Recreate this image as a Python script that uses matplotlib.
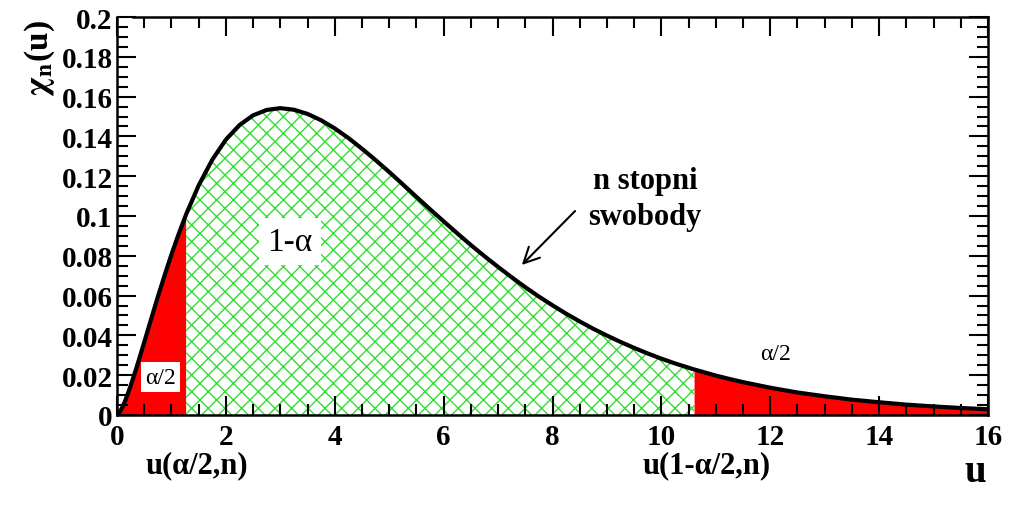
import numpy as np
import matplotlib
matplotlib.use('Agg')
from matplotlib import pyplot as plt
from matplotlib.ticker import MultipleLocator

plt.rcParams['font.family'] = ['Liberation Serif', 'DejaVu Serif']
plt.rcParams['mathtext.fontset'] = 'stix'
plt.rcParams['hatch.linewidth'] = 1.0
plt.rcParams['hatch.color'] = '#33dd33'

# curve (u, chi_n(u))
u = [0, 0.05, 0.1, 0.15, 0.2, 0.25, 0.35, 0.5, 0.625, 0.75, 0.875, 1.0, 1.125, 1.27,
     1.5, 1.75, 2.0, 2.25, 2.5, 2.75, 3.0, 3.25, 3.5, 3.75, 4.0, 4.25, 4.5, 4.75,
     5.0, 5.25, 5.5, 5.75, 6.0, 6.25, 6.5, 6.75, 7.0, 7.25, 7.5, 7.75, 8.0, 8.25,
     8.5, 8.75, 9.0, 9.25, 9.5, 9.75, 10.0, 10.25, 10.6, 11.0, 11.25, 11.5,
     12.0, 12.5, 13.0, 13.5, 14.0, 14.5, 15.0, 15.5, 16.0]
chi = [0, 0.0015, 0.0040, 0.0072, 0.0108, 0.0147, 0.0231, 0.0366, 0.0481, 0.0594,
       0.0703, 0.0807, 0.0904, 0.1009, 0.1154, 0.1283, 0.1384, 0.1457, 0.1506,
       0.1533, 0.1542, 0.1534, 0.1513, 0.1481, 0.1440, 0.1392, 0.1338, 0.1281,
       0.1221, 0.1159, 0.1096, 0.1034, 0.0973, 0.0913, 0.0854, 0.0798, 0.0744,
       0.0692, 0.0642, 0.0595, 0.0551, 0.0509, 0.0470, 0.0433, 0.0399, 0.0367,
       0.0337, 0.0309, 0.0283, 0.0259, 0.0229, 0.0198, 0.0181, 0.0165,
       0.0137, 0.0113, 0.0094, 0.0077, 0.0064, 0.0052, 0.0043, 0.0035, 0.0029]
u_low = 1.27   # u(alpha/2, n)
u_high = 10.6  # u(1-alpha/2, n)

u = np.array(u)
chi = np.array(chi)

fig = plt.figure(figsize=(10.23, 5.06), dpi=100)
ax = fig.add_axes([0.1144, 0.1779, 0.8514, 0.7865])

lo = u <= u_low
mid = (u >= u_low) & (u <= u_high)
hi = u >= u_high
ax.fill_between(u[lo], 0, chi[lo], color='#ff0000', lw=0)
ax.fill_between(u[mid], 0, chi[mid], facecolor='white', edgecolor='#33dd33',
                hatch='xx', lw=0)
ax.fill_between(u[hi], 0, chi[hi], color='#ff0000', lw=0)
ax.plot(u, chi, color='black', lw=3, solid_joinstyle='round')

ax.set_xlim(0, 16)
ax.set_ylim(0, 0.2)
ax.xaxis.set_major_locator(MultipleLocator(2))
ax.xaxis.set_minor_locator(MultipleLocator(0.5))
ax.yaxis.set_major_locator(MultipleLocator(0.02))
ax.yaxis.set_minor_locator(MultipleLocator(0.005))
ax.yaxis.set_major_formatter(plt.FuncFormatter(lambda v, p: '0' if v == 0 else ('%.2f' % v).rstrip('0')))
ax.tick_params(which='both', direction='in', top=True, right=True, width=1.5)
ax.tick_params(which='major', length=14, labelsize=21)
ax.tick_params(which='minor', length=8)
for lab in ax.get_xticklabels() + ax.get_yticklabels():
    lab.set_fontweight('bold')
ax.tick_params(axis='x', pad=6)
ax.tick_params(axis='y', pad=3)
for s in ax.spines.values():
    s.set_linewidth(1.8)
ax.spines['top'].set_bounds(0.3, 16)

bold = dict(fontweight='bold', fontsize=22)
ax.text(3.18, 0.087, '1-α', ha='center', va='center', fontsize=24,
        bbox=dict(facecolor='white', edgecolor='none', pad=6))
ax.text(0.8, 0.019, 'α/2', ha='center', va='center', fontsize=17,
        bbox=dict(facecolor='white', edgecolor='none', pad=3))
ax.text(12.09, 0.0307, 'α/2', ha='center', va='center', fontsize=17)
ax.text(9.7, 0.1176, 'n stopni', ha='center', va='center', **bold)
ax.text(9.7, 0.0995, 'swobody', ha='center', va='center', **bold)
ax.annotate('', xy=(7.40, 0.0744), xytext=(8.45, 0.1035),
            arrowprops=dict(arrowstyle='->', lw=1.5, mutation_scale=28))

fig.text(197 / 1023, 1 - 466 / 506, 'u(α/2,n)', ha='center', va='center', **bold)
fig.text(707 / 1023, 1 - 466 / 506, 'u(1-α/2,n)', ha='center', va='center', **bold)
fig.text(975 / 1023, 1 - 473 / 506, 'u', ha='center', va='center', fontweight='bold', fontsize=28)
fig.text(40 / 1023, 1 - 58 / 506, r'$\mathbf{\chi_n}$(u)', ha='center', va='center',
         rotation=90, fontweight='bold', fontsize=24)

fig.savefig('out.png', dpi=100)
